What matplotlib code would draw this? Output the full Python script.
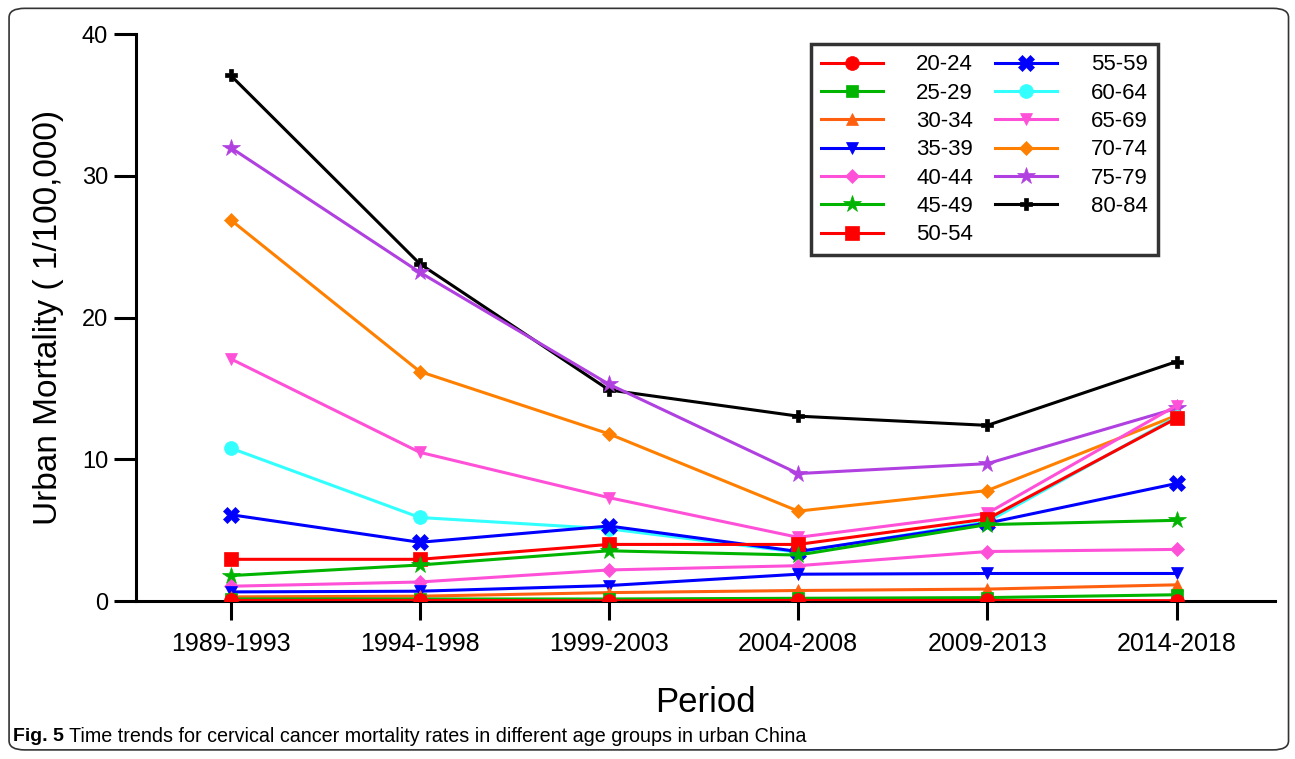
import matplotlib
matplotlib.use('Agg')
import matplotlib.pyplot as plt
from matplotlib.patches import FancyBboxPatch

plt.rcParams['font.family'] = ['Liberation Sans', 'DejaVu Sans']

periods = ['1989-1993', '1994-1998', '1999-2003', '2004-2008', '2009-2013', '2014-2018']
age_groups = ['20-24', '25-29', '30-34', '35-39', '40-44', '45-49', '50-54',
              '55-59', '60-64', '65-69', '70-74', '75-79', '80-84']

r20_24 = [0.05, 0.05, 0.02, 0.05, 0.05, 0.03]
r25_29 = [0.15, 0.15, 0.15, 0.2, 0.25, 0.45]
r30_34 = [0.3, 0.35, 0.6, 0.75, 0.85, 1.15]
r35_39 = [0.65, 0.7, 1.1, 1.9, 1.95, 1.95]
r40_44 = [1.05, 1.35, 2.2, 2.5, 3.5, 3.65]
r45_49 = [1.8, 2.55, 3.55, 3.25, 5.4, 5.7]
r50_54 = [2.95, 2.95, 4.0, 4.0, 5.8, 12.9]
r55_59 = [6.1, 4.15, 5.3, 3.5, 5.5, 8.3]
r60_64 = [10.8, 5.9, 5.1, 3.45, 5.6, 13.0]
r65_69 = [17.1, 10.5, 7.3, 4.5, 6.2, 13.8]
r70_74 = [26.9, 16.2, 11.8, 6.35, 7.8, 13.1]
r75_79 = [32.0, 23.2, 15.3, 9.0, 9.7, 13.6]
r80_84 = [37.1, 23.8, 14.9, 13.05, 12.4, 16.9]

rates = [r20_24, r25_29, r30_34, r35_39, r40_44, r45_49, r50_54,
         r55_59, r60_64, r65_69, r70_74, r75_79, r80_84]
colors = ['#ff0000', '#00b400', '#ff6010', '#0000ff', '#ff50d8', '#00b400', '#ff0000',
          '#0000ff', '#33ffff', '#ff50d8', '#ff8000', '#b040e0', '#000000']
markers = ['o', 's', '^', 'v', 'D', '*', 's', 'X', 'o', 'v', 'D', '*', 'P']
msizes = [10, 9, 9, 9, 7, 13, 10, 11, 10, 9, 7, 13, 9]

fig = plt.figure(figsize=(12.95, 7.59), dpi=100)
ax = fig.add_axes([0.105, 0.208, 0.8795, 0.747])

x = list(range(len(periods)))
n = len(age_groups)
for i in range(n):
    ax.plot(x, rates[i], color=colors[i], marker=markers[i], markersize=msizes[i],
            linewidth=2.2, label=age_groups[i], zorder=10 + n - i,
            markeredgewidth=0.5, markeredgecolor=colors[i])

ax.set_xlim(-0.5, 5.52)
ax.set_ylim(0, 40)
ax.set_yticks([0, 10, 20, 30, 40])
ax.set_xticks(x)
ax.set_xticklabels(periods)
ax.spines['top'].set_visible(False)
ax.spines['right'].set_visible(False)
ax.spines['left'].set_linewidth(2.2)
ax.spines['bottom'].set_linewidth(2.2)
ax.tick_params(axis='y', length=16, width=2.2, labelsize=17, pad=4)
ax.tick_params(axis='x', length=14, width=2.2, labelsize=18, pad=8)
ax.set_xlabel('Period', fontsize=25, labelpad=22)
ax.set_ylabel('Urban Mortality ( 1/100,000)', fontsize=24, labelpad=13)

leg = ax.legend(ncol=2, loc='upper right', bbox_to_anchor=(0.897, 0.982), fontsize=16,
                frameon=True, fancybox=False, edgecolor='black', handlelength=2.8,
                handletextpad=1.5, columnspacing=1.0, labelspacing=0.33,
                borderpad=0.45, borderaxespad=0, markerscale=1.0)
leg.get_frame().set_linewidth(2.5)
leg.set_zorder(50)

fig.patches.append(FancyBboxPatch((0.007, 0.012), 0.988, 0.977,
                                  boxstyle='round,pad=0,rounding_size=0.012',
                                  transform=fig.transFigure, fill=False,
                                  edgecolor='#333333', linewidth=1.2))

fig.text(0.01, 0.029, 'Fig. 5', fontsize=14, fontweight='bold', va='center')
fig.text(0.053, 0.029, 'Time trends for cervical cancer mortality rates in different age groups in urban China',
         fontsize=14.2, va='center')

fig.savefig('out.png', dpi=100)
